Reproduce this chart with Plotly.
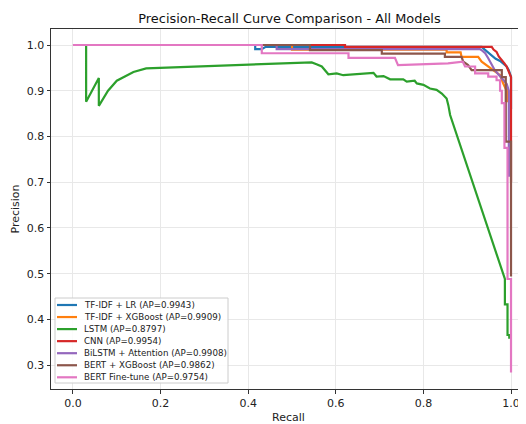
import plotly.graph_objects as go

# ---------------- data ----------------
lr_recall = [0.0, 0.416, 0.416, 0.431, 0.44, 0.933, 0.940, 0.946, 0.950, 0.956, 0.965, 0.975, 0.985, 0.990, 0.995, 0.998, 1.0, 1.0]
lr_precision = [1.0, 1.0, 0.991, 0.991, 0.996, 0.996, 0.990, 0.985, 0.982, 0.978, 0.970, 0.965, 0.958, 0.953, 0.945, 0.938, 0.930, 0.860]

xgb_recall = [0.0, 0.50, 0.50, 0.853, 0.853, 0.885, 0.887, 0.925, 0.933, 0.944, 0.952, 0.963, 0.975, 0.982, 0.989, 0.991, 0.991]
xgb_precision = [1.0, 1.0, 0.990, 0.990, 0.984, 0.984, 0.974, 0.974, 0.9635, 0.956, 0.949, 0.942, 0.934, 0.916, 0.902, 0.902, 0.875]

lstm_recall = [0.0, 0.030, 0.030, 0.059, 0.059, 0.08, 0.10, 0.138, 0.167, 0.545, 0.556, 0.568, 0.583,
               0.602, 0.617, 0.686, 0.693, 0.709, 0.724, 0.754, 0.762, 0.780, 0.785, 0.800, 0.815, 0.830,
               0.842, 0.853, 0.857, 0.861, 0.986, 0.986, 0.992, 0.992, 0.996, 0.996, 1.0]
lstm_precision = [1.0, 1.0, 0.876, 0.928, 0.867, 0.900, 0.922, 0.941, 0.949, 0.962, 0.958, 0.953, 0.936,
                  0.938, 0.934, 0.939, 0.931, 0.932, 0.925, 0.925, 0.920, 0.922, 0.916, 0.913, 0.905, 0.902,
                  0.894, 0.883, 0.868, 0.847, 0.4885, 0.433, 0.433, 0.366, 0.366, 0.360, 0.360]

cnn_recall = [0.0, 0.621, 0.621, 0.956, 0.960, 0.967, 0.972, 0.979, 0.985, 0.990, 0.995, 1.0, 1.0]
cnn_precision = [1.0, 1.0, 0.996, 0.996, 0.990, 0.985, 0.975, 0.968, 0.960, 0.953, 0.940, 0.930, 0.700]

bilstm_recall = [0.0, 0.465, 0.465, 0.929, 0.935, 0.941, 0.948, 0.956, 0.963, 0.972, 0.982, 0.990, 0.995, 0.995]
bilstm_precision = [1.0, 1.0, 0.991, 0.991, 0.987, 0.982, 0.971, 0.956, 0.945, 0.935, 0.923, 0.915, 0.900, 0.712]

bertxgb_recall = [0.0, 0.541, 0.541, 0.705, 0.705, 0.849, 0.849, 0.887, 0.891, 0.902, 0.910, 0.979,
                  0.979, 0.988, 0.988, 1.0, 1.0]
bertxgb_precision = [1.0, 1.0, 0.989, 0.989, 0.981, 0.981, 0.974, 0.974, 0.9635, 0.956, 0.945, 0.945,
                     0.930, 0.930, 0.789, 0.789, 0.494]

bertft_recall = [0.0, 0.431, 0.431, 0.629, 0.629, 0.735, 0.742, 0.80, 0.856, 0.890, 0.895, 0.918, 0.918,
                 0.948, 0.948, 0.967, 0.967, 0.975, 0.975, 0.979, 0.979, 0.985, 0.985, 0.992, 0.992, 1.0, 1.0]
bertft_precision = [1.0, 1.0, 0.982, 0.982, 0.972, 0.972, 0.956, 0.958, 0.960, 0.9635, 0.953, 0.953, 0.938,
                    0.938, 0.931, 0.931, 0.923, 0.923, 0.900, 0.900, 0.873, 0.873, 0.775, 0.775, 0.4885, 0.4885, 0.284]

model_names = ["TF-IDF + LR", "TF-IDF + XGBoost", "LSTM", "CNN", "BiLSTM + Attention", "BERT + XGBoost", "BERT Fine-tune"]
ap_scores = [0.9943, 0.9909, 0.8797, 0.9954, 0.9908, 0.9862, 0.9754]
colors = ["#1f77b4", "#ff7f0e", "#2ca02c", "#d62728", "#9467bd", "#8c564b", "#e377c2"]

x_ticks = [0.0, 0.2, 0.4, 0.6, 0.8, 1.0]
y_ticks = [0.3, 0.4, 0.5, 0.6, 0.7, 0.8, 0.9, 1.0]

curves = [
    (lr_recall, lr_precision),
    (xgb_recall, xgb_precision),
    (lstm_recall, lstm_precision),
    (cnn_recall, cnn_precision),
    (bilstm_recall, bilstm_precision),
    (bertxgb_recall, bertxgb_precision),
    (bertft_recall, bertft_precision),
]

# ---------------- layout geometry ----------------
# The page body has an 8px default margin, so the figure is sized/offset
# to place the plot area where it sits in the reference window.
OFF = 8
W, H = 526 - OFF, 424 - OFF
ML, MR, MT, MB = 51 - OFF, 0, 29 - OFF, 35
PW, PH = W - ML - MR, H - MT - MB


def px_x(page_px):
    return (page_px - OFF - ML) / PW


def px_y(page_py):
    return (H - MB - (page_py - OFF)) / PH


font_family = "DejaVu Sans"

# ---------------- figure ----------------
fig = go.Figure()
for (r, p), name, ap, c in zip(curves, model_names, ap_scores, colors):
    fig.add_trace(go.Scatter(
        x=r, y=p, mode="lines", name=f"{name} (AP={ap:.4f})",
        line=dict(color=c, width=2.2), showlegend=False,
    ))

# compact matplotlib-style legend (box + line samples + labels)
shapes = [dict(type="rect", xref="paper", yref="paper",
               x0=px_x(55), x1=px_x(228), y0=px_y(383), y1=px_y(298),
               line=dict(color="#cccccc", width=1), fillcolor="rgba(255,255,255,0.85)", layer="above")]
annotations = []
row0, row_gap = 305.0, 12.05
for i, (name, ap, c) in enumerate(zip(model_names, ap_scores, colors)):
    yy = px_y(row0 + i * row_gap)
    shapes.append(dict(type="line", xref="paper", yref="paper",
                       x0=px_x(57), x1=px_x(77), y0=yy, y1=yy,
                       line=dict(color=c, width=2.2), layer="above"))
    annotations.append(dict(xref="paper", yref="paper", x=px_x(82), y=yy,
                            xanchor="left", yanchor="middle", showarrow=False,
                            text=f"{name} (AP={ap:.4f})",
                            font=dict(size=8.7, family=font_family, color="#222")))

fig.update_layout(
    width=W, height=H,
    margin=dict(l=ML, r=MR, t=MT, b=MB),
    paper_bgcolor="white", plot_bgcolor="white",
    font=dict(family=font_family, color="#222"),
    title=dict(text="Precision-Recall Curve Comparison - All Models",
               x=(289.5 - OFF) / W, xref="container", xanchor="center",
               y=1 - (18 - OFF) / H, yref="container", yanchor="middle",
               font=dict(size=12.9, family=font_family, color="#111")),
    showlegend=False,
    shapes=shapes,
    annotations=annotations,
)
fig.update_xaxes(
    range=[-0.0502, 1.0342], tickvals=x_ticks, ticktext=[f"{v:.1f}" for v in x_ticks],
    showgrid=True, gridcolor="#e8e8e8", gridwidth=1, zeroline=False,
    showline=True, linecolor="#333", linewidth=1, mirror=True,
    ticks="outside", ticklen=3.5, tickcolor="#333", tickfont=dict(size=11),
    title=dict(text="Recall", font=dict(size=11), standoff=4), automargin=False,
)
fig.update_yaxes(
    range=[0.248, 1.035], tickvals=y_ticks, ticktext=[f"{v:.1f}" for v in y_ticks],
    showgrid=True, gridcolor="#e8e8e8", gridwidth=1, zeroline=False,
    showline=True, linecolor="#333", linewidth=1, mirror=False,
    ticks="outside", ticklen=3.5, tickcolor="#333", tickfont=dict(size=11),
    title=dict(text="Precision", font=dict(size=11), standoff=4), automargin=False,
)

fig.write_html("out.html")
